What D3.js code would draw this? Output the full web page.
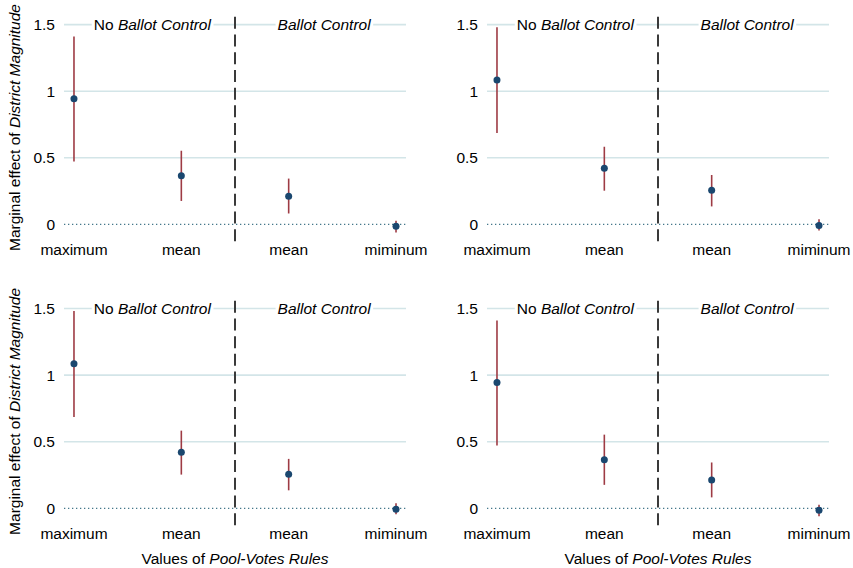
<!DOCTYPE html>
<html>
<head>
<meta charset="utf-8">
<script src="https://cdn.jsdelivr.net/npm/d3@7"></script>
<style>
  html, body { margin: 0; padding: 0; background: #fff; }
  svg { display: block; font-family: "Liberation Sans", Arial, Helvetica, sans-serif; }
</style>
</head>
<body>
<svg id="chart" width="853" height="568"></svg>
<script>
// Values of the pool-votes rule at which the marginal effect is evaluated
const categories = ["maximum", "mean", "mean", "miminum"];
const groupLabels = ["No Ballot Control", "Ballot Control"];
const yTicks = [0, 0.5, 1, 1.5];
const yTickLabels = ["0", "0.5", "1", "1.5"];

// Model A: point estimates and 95% confidence bounds
const estA = [0.944, 0.365, 0.212, -0.014];
const loA  = [0.472, 0.176, 0.082, -0.060];
const hiA  = [1.410, 0.553, 0.344, 0.027];

// Model B: point estimates and 95% confidence bounds
const estB = [1.085, 0.421, 0.256, -0.008];
const loB  = [0.686, 0.253, 0.135, -0.045];
const hiB  = [1.481, 0.583, 0.371, 0.038];

const svg = d3.select("#chart");
const fontSize = 15.5;

const colors = {
  grid: "#d3e5e8",
  zero: "#44778a",
  divider: "#3a3a3a",
  ci: "#9e3b44",
  point: "#1a476f",
  text: "#000"
};

// panel geometry: x range of the plot region, y range of 0..1.5
const panels = [
  { est: estA, lo: loA, hi: hiA, x0: 64,  x1: 406, yTop: 24.6,  yZero: 224.4, yTitle: true,  xTitle: false },
  { est: estB, lo: loB, hi: hiB, x0: 487, x1: 829, yTop: 24.6,  yZero: 224.4, yTitle: false, xTitle: false },
  { est: estB, lo: loB, hi: hiB, x0: 64,  x1: 406, yTop: 308.5, yZero: 508.3, yTitle: true,  xTitle: true },
  { est: estA, lo: loA, hi: hiA, x0: 487, x1: 829, yTop: 308.5, yZero: 508.3, yTitle: false, xTitle: true }
];

panels.forEach(p => {
  const g = svg.append("g");
  const idx = d3.range(categories.length);

  const x = d3.scaleLinear().domain([-0.093, 3.093]).range([p.x0, p.x1]);
  const y = d3.scaleLinear().domain([0, 1.5]).range([p.yZero, p.yTop]);

  // horizontal gridlines
  g.selectAll("line.grid")
    .data(yTicks.filter(t => t !== 0))
    .join("line")
    .attr("class", "grid")
    .attr("x1", p.x0).attr("x2", p.x1)
    .attr("y1", d => y(d)).attr("y2", d => y(d))
    .attr("stroke", colors.grid)
    .attr("stroke-width", 1.6);

  // dotted reference line at zero
  g.append("line")
    .attr("x1", p.x0).attr("x2", p.x1)
    .attr("y1", y(0)).attr("y2", y(0))
    .attr("stroke", colors.zero)
    .attr("stroke-width", 1.3)
    .attr("stroke-dasharray", "1.3,2.7");

  // y tick labels
  g.selectAll("text.ytick")
    .data(yTicks)
    .join("text")
    .attr("class", "ytick")
    .attr("x", p.x0 - 9)
    .attr("y", d => y(d))
    .attr("dy", "0.36em")
    .attr("text-anchor", "end")
    .attr("font-size", fontSize)
    .attr("fill", colors.text)
    .text((d, i) => yTickLabels[i]);

  // dashed divider between the two ballot-control regimes
  const xDiv = x(1.5);
  g.append("line")
    .attr("x1", xDiv).attr("x2", xDiv)
    .attr("y1", y(1.558)).attr("y2", y(-0.135))
    .attr("stroke", colors.divider)
    .attr("stroke-width", 2)
    .attr("stroke-dasharray", "12,5.7");

  // regime labels with white boxes over the gridline
  [[0.73, groupLabels[0]], [2.33, groupLabels[1]]].forEach(([pos, label], k) => {
    const t = g.append("text")
      .attr("x", x(pos))
      .attr("y", y(1.5))
      .attr("dy", "0.36em")
      .attr("text-anchor", "middle")
      .attr("font-size", fontSize)
      .attr("fill", colors.text);
    if (k === 0) {
      t.append("tspan").text("No ");
      t.append("tspan").attr("font-style", "italic").text("Ballot Control");
    } else {
      t.append("tspan").attr("font-style", "italic").text(label);
    }
    const bb = t.node().getBBox();
    g.insert("rect", () => t.node())
      .attr("x", bb.x - 2).attr("y", bb.y)
      .attr("width", bb.width + 4).attr("height", bb.height)
      .attr("fill", "#fff");
  });

  // confidence intervals
  g.selectAll("line.ci")
    .data(idx)
    .join("line")
    .attr("class", "ci")
    .attr("x1", i => x(i)).attr("x2", i => x(i))
    .attr("y1", i => y(p.lo[i])).attr("y2", i => y(p.hi[i]))
    .attr("stroke", colors.ci)
    .attr("stroke-width", 1.6);

  // point estimates
  g.selectAll("circle.est")
    .data(idx)
    .join("circle")
    .attr("class", "est")
    .attr("cx", i => x(i))
    .attr("cy", i => y(p.est[i]))
    .attr("r", 3.5)
    .attr("fill", colors.point);

  // x category labels
  g.selectAll("text.xtick")
    .data(idx)
    .join("text")
    .attr("class", "xtick")
    .attr("x", i => x(i))
    .attr("y", p.yZero + 30.5)
    .attr("text-anchor", "middle")
    .attr("font-size", fontSize)
    .attr("fill", colors.text)
    .text(i => categories[i]);

  if (p.yTitle) {
    const cy = (p.yTop + p.yZero) / 2 + 3;
    const t = g.append("text")
      .attr("transform", `translate(19.5,${cy}) rotate(-90)`)
      .attr("text-anchor", "middle")
      .attr("font-size", fontSize)
      .attr("fill", colors.text);
    t.append("tspan").text("Marginal effect of ");
    t.append("tspan").attr("font-style", "italic").text("District Magnitude");
  }

  if (p.xTitle) {
    const t = g.append("text")
      .attr("x", xDiv)
      .attr("y", p.yZero + 56)
      .attr("text-anchor", "middle")
      .attr("font-size", fontSize)
      .attr("fill", colors.text);
    t.append("tspan").text("Values of ");
    t.append("tspan").attr("font-style", "italic").text("Pool-Votes Rules");
  }
});
</script>
</body>
</html>
